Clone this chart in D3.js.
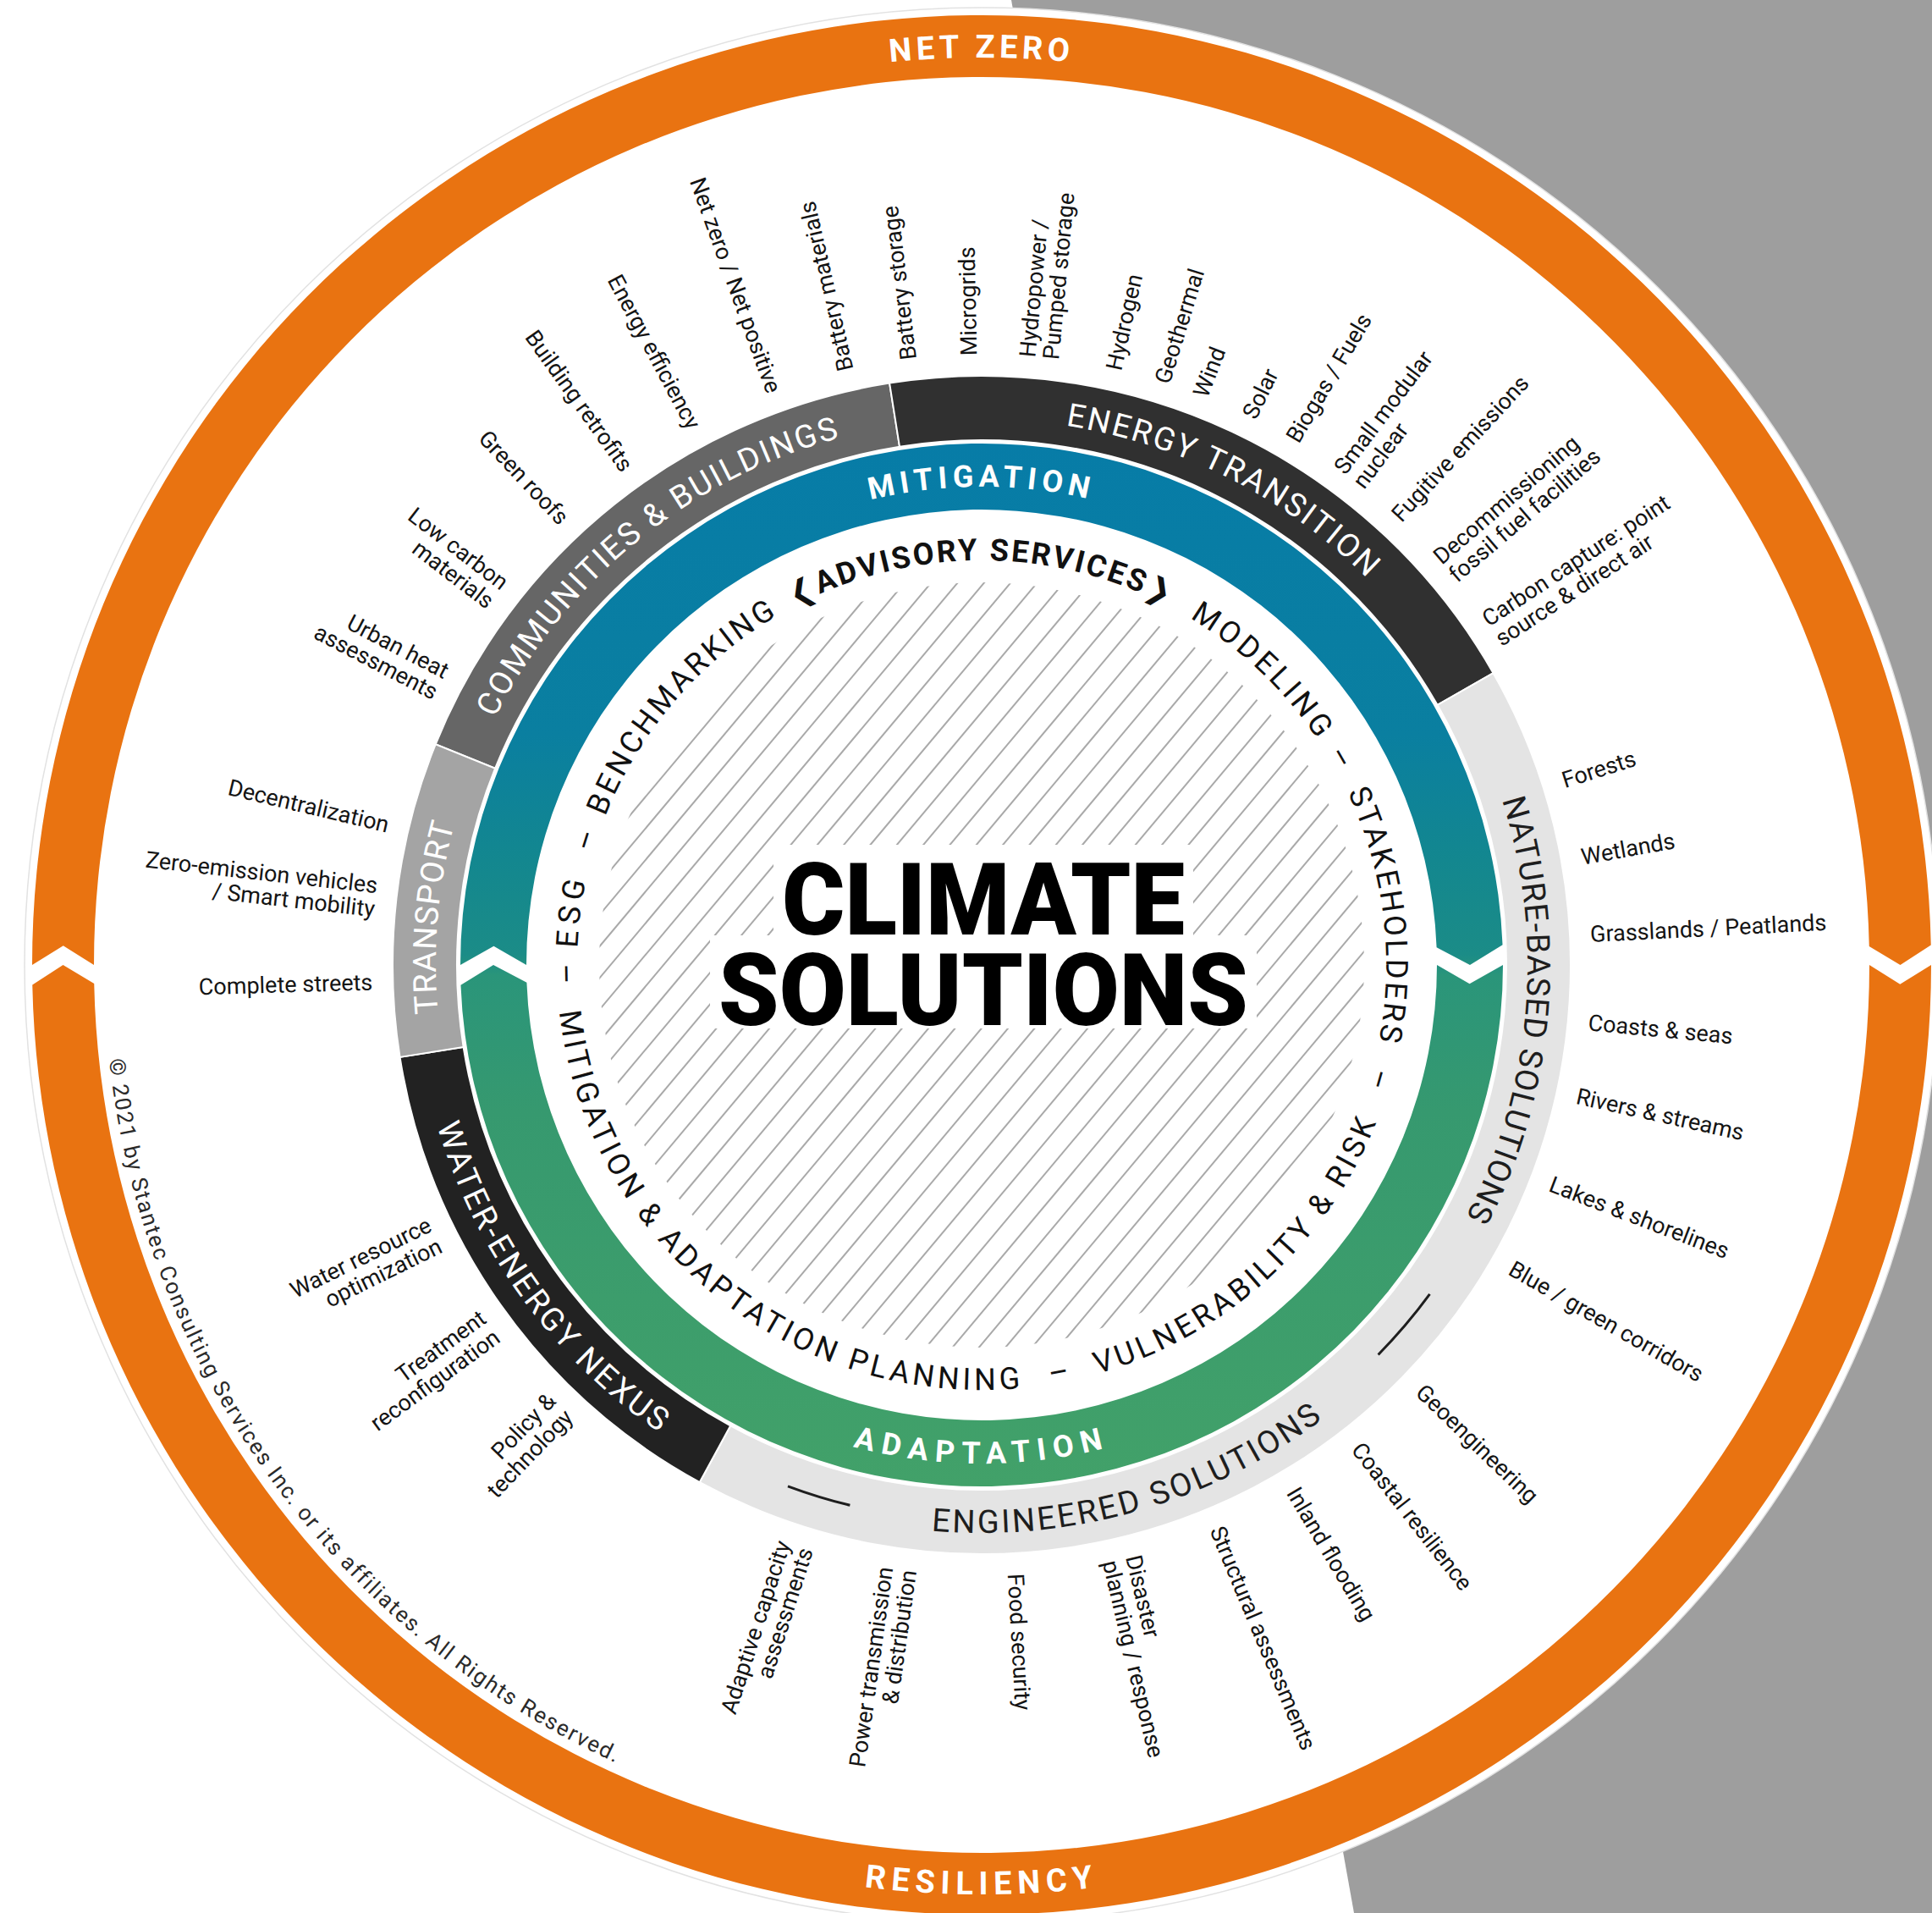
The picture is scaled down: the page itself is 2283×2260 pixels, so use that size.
<!DOCTYPE html>
<html>
<head>
<meta charset="utf-8">
<script src="https://cdn.jsdelivr.net/npm/d3@7"></script>
<style>
html, body { margin: 0; padding: 0; background: #fff; }
svg { display: block; }
text { font-family: Roboto, "Open Sans", "DejaVu Sans", sans-serif; }
</style>
</head>
<body>
<svg id="chart" width="2283" height="2260"></svg>
<script>
// outer loop (orange) and core loop (mitigation / adaptation), angles in degrees clockwise from 12 o'clock
var loopNames = ['NET ZERO', 'RESILIENCY'];
var loopFrom = [-90, 90];
var loopTo = [90, 270];
var loopTextSpan = [11.3, 14.2];

var coreNames = ['MITIGATION', 'ADAPTATION'];
var coreFrom = [-90, 90];
var coreTo = [90, 270];
var coreTextSpan = [26.2, 29.2];

// sector ring
var sectorEdges = [-68, -9, 60.3, 208.6, 261, 292];
var sectorFill = ['#666666', '#303030', '#e4e4e4', '#222222', '#a4a4a4'];

var bandNames = ['COMMUNITIES & BUILDINGS', 'ENERGY TRANSITION', 'NATURE-BASED SOLUTIONS', 'ENGINEERED SOLUTIONS', 'WATER-ENERGY NEXUS', 'TRANSPORT'];
var bandAngle = [-39, 27, 95, 164, 234, -85];
var bandSpan = [48, 36, 45, 42, 39, 20];
var bandInk = ['#ffffff', '#ffffff', '#1e1e1e', '#1e1e1e', '#ffffff', '#ffffff'];
var engDashes = [[126.3, 134.5], [193.7, 200.4]];

// advisory ring inside the core loop
var advisoryNames = ['ESG', '–', 'BENCHMARKING', '❮ADVISORY SERVICES❯', 'MODELING', '–', 'STAKEHOLDERS', '–', '–', 'MITIGATION & ADAPTATION PLANNING', '–', 'VULNERABILITY & RISK'];
var advisoryAngle = [-82.4, -72.5, -49.2, 0, 43.8, 60, 83, 106, -91.2, 219, 169.3, 137.8];
var advisorySpan = [9.5, 0, 38, 54.6, 25, 0, 36, 0, 0, 89, 0, 52.5];

// solutions around the ring
var itemNames = [
  'Urban heat\nassessments', 'Low carbon\nmaterials', 'Green roofs', 'Building retrofits', 'Energy efficiency', 'Net zero / Net positive',
  'Battery materials', 'Battery storage', 'Microgrids', 'Hydropower /\nPumped storage', 'Hydrogen', 'Geothermal', 'Wind', 'Solar',
  'Biogas / Fuels', 'Small modular\nnuclear', 'Fugitive emissions', 'Decommissioning\nfossil fuel facilities', 'Carbon capture: point\nsource & direct air',
  'Forests', 'Wetlands', 'Grasslands / Peatlands', 'Coasts & seas', 'Rivers & streams', 'Lakes & shorelines', 'Blue / green corridors',
  'Geoengineering', 'Coastal resilience', 'Inland flooding', 'Structural assessments', 'Disaster\nplanning / response', 'Food security',
  'Power transmission\n& distribution', 'Adaptive capacity\nassessments',
  'Policy &\ntechnology', 'Treatment\nreconfiguration', 'Water resource\noptimization',
  'Complete streets', 'Zero-emission vehicles\n/ Smart mobility', 'Decentralization'
];
var itemAngle = [-62.4, -52.5, -43.2, -35.5, -28.1, -19.9,
  -12.9, -6.9, -1.2, 5.4, 12.5, 17.2, 21, 26,
  30.6, 37, 42.8, 49.4, 56.7,
  72.4, 79.8, 87.1, 95.4, 102.4, 111, 119.7,
  134, 142, 149.3, 157.3, 166.7, 176.8,
  188, 197.9,
  223.8, 233.8, 243.8,
  268.4, 276.4, 283.3];

var titleLines = ['CLIMATE', 'SOLUTIONS'];
var copyright = '© 2021 by Stantec Consulting Services Inc. or its affiliates. All Rights Reserved.';

var W = 2283, H = 2260, cx = 1160, cy = 1140;
var PI = Math.PI;
var rad = d3.scaleLinear().domain([0, 360]).range([0, 2 * PI]);

var svg = d3.select('#chart');
var defs = svg.append('defs');

function pt(r, a) { return [cx + r * Math.sin(a), cy - r * Math.cos(a)]; }

// band with chevron ends; shift moves the mid point of each end clockwise
function chevronBand(ri, ro, a0, a1, shift) {
  var p = d3.path(), rm = (ri + ro) / 2, q;
  q = pt(ro, a0); p.moveTo(q[0], q[1]);
  p.arc(cx, cy, ro, a0 - PI / 2, a1 - PI / 2, false);
  q = pt(rm, a1 + shift); p.lineTo(q[0], q[1]);
  q = pt(ri, a1); p.lineTo(q[0], q[1]);
  p.arc(cx, cy, ri, a1 - PI / 2, a0 - PI / 2, true);
  q = pt(rm, a0 + shift); p.lineTo(q[0], q[1]);
  p.closePath();
  return p.toString();
}

var pathId = 0;
function arcText(g, str, r, center, span, style) {
  var mid = ((center % 360) + 360) % 360;
  var bottom = mid > 100 && mid < 260;
  var a0 = rad(center - 100), a1 = rad(center + 100);
  var p = d3.path(), q;
  if (!bottom) {
    q = pt(r, a0); p.moveTo(q[0], q[1]);
    p.arc(cx, cy, r, a0 - PI / 2, a1 - PI / 2, false);
  } else {
    q = pt(r, a1); p.moveTo(q[0], q[1]);
    p.arc(cx, cy, r, a1 - PI / 2, a0 - PI / 2, true);
  }
  var id = 'tp' + (pathId++);
  defs.append('path').attr('id', id).attr('d', p.toString());
  var t = g.append('text')
    .attr('text-anchor', 'middle')
    .attr('dominant-baseline', 'central')
    .style('font-size', style.size + 'px')
    .style('font-weight', style.weight || 400)
    .attr('fill', style.fill);
  t.append('textPath').attr('href', '#' + id).attr('startOffset', '50%').text(str);
  if (span && str.length > 1) {
    var len = t.node().getComputedTextLength();
    var target = r * rad(span);
    t.attr('letter-spacing', ((target - len) / (str.length - 1)).toFixed(2));
  }
  return t;
}

// background: white page, grey to the right
svg.append('rect').attr('width', W).attr('height', H).attr('fill', '#ffffff');
svg.append('path').attr('d', 'M1195,0L' + W + ',0L' + W + ',' + H + 'L1600,' + H + 'Z').attr('fill', '#9e9e9e');
svg.append('circle').attr('cx', cx).attr('cy', cy).attr('r', 1131)
  .attr('fill', '#ffffff').attr('stroke', '#e2e2e2').attr('stroke-width', 1.5);

// orange loop
var loopG = svg.append('g');
var lh = rad(0.6), ld = rad(1.2);
loopNames.forEach(function (n, i) {
  loopG.append('path')
    .attr('d', chevronBand(1049, 1122, rad(loopFrom[i]) + lh - ld / 2, rad(loopTo[i]) - lh - ld / 2, ld))
    .attr('fill', '#e97311');
  arcText(loopG, n, 1085, (loopFrom[i] + loopTo[i]) / 2, loopTextSpan[i], { size: 38, weight: 700, fill: '#ffffff' });
});

// sector ring
var sectorG = svg.append('g');
var sectorArc = d3.arc().innerRadius(620).outerRadius(696);
sectorFill.forEach(function (c, i) {
  sectorG.append('path')
    .attr('transform', 'translate(' + cx + ',' + cy + ')')
    .attr('d', sectorArc({ startAngle: rad(sectorEdges[i]), endAngle: rad(sectorEdges[i + 1]) }))
    .attr('fill', c).attr('stroke', '#ffffff').attr('stroke-width', 2);
});
bandNames.forEach(function (n, i) {
  arcText(sectorG, n, 658, bandAngle[i], bandSpan[i], { size: 38, weight: 400, fill: bandInk[i] });
});
engDashes.forEach(function (d) {
  var p = d3.path(), q = pt(657, rad(d[0]));
  p.moveTo(q[0], q[1]);
  p.arc(cx, cy, 657, rad(d[0]) - PI / 2, rad(d[1]) - PI / 2, false);
  sectorG.append('path').attr('d', p.toString()).attr('fill', 'none')
    .attr('stroke', '#1e1e1e').attr('stroke-width', 3);
});

// core loop
var grad = defs.append('linearGradient').attr('id', 'coreGrad')
  .attr('gradientUnits', 'userSpaceOnUse')
  .attr('x1', 0).attr('y1', cy - 616).attr('x2', 0).attr('y2', cy + 616);
[[0, '#077ca7'], [0.28, '#0a7fa0'], [0.4, '#13878f'], [0.49, '#1b8c87'], [0.51, '#2a957a'], [0.64, '#36996f'], [1, '#42a169']]
  .forEach(function (s) { grad.append('stop').attr('offset', s[0]).attr('stop-color', s[1]); });

var coreG = svg.append('g');
var ch = rad(1.1), cd = rad(2.2);
coreNames.forEach(function (n, i) {
  coreG.append('path')
    .attr('d', chevronBand(538, 616, rad(coreFrom[i]) + ch - cd / 2, rad(coreTo[i]) - ch - cd / 2, cd))
    .attr('fill', 'url(#coreGrad)');
  arcText(coreG, n, 577, (coreFrom[i] + coreTo[i]) / 2, coreTextSpan[i], { size: 36, weight: 700, fill: '#ffffff' });
});

// hatched centre
defs.append('clipPath').attr('id', 'hatchClip')
  .append('circle').attr('cx', cx).attr('cy', cy).attr('r', 452);
var hatchG = svg.append('g').attr('clip-path', 'url(#hatchClip)');
var ang = 50 * PI / 180, dir = [Math.cos(ang), -Math.sin(ang)], nrm = [Math.sin(ang), Math.cos(ang)];
d3.range(-480, 481, 24).forEach(function (t) {
  var x0 = cx + nrm[0] * t, y0 = cy + nrm[1] * t;
  hatchG.append('line')
    .attr('x1', x0 - dir[0] * 480).attr('y1', y0 - dir[1] * 480)
    .attr('x2', x0 + dir[0] * 480).attr('y2', y0 + dir[1] * 480)
    .attr('stroke', '#a9a9a9').attr('stroke-width', 2);
});

// advisory ring text
var advG = svg.append('g');
advisoryNames.forEach(function (n, i) {
  arcText(advG, n, 490, advisoryAngle[i], advisorySpan[i], {
    size: 36, weight: n.indexOf('ADVISORY') >= 0 ? 700 : 400, fill: '#111111'
  });
});

// title
var titleG = svg.append('g');
var titleBase = [1104, 1211], titleWidth = [476, 626];
var boxes = titleG.append('g');
titleLines.forEach(function (s, i) {
  var t = titleG.append('text')
    .attr('x', cx + 2).attr('y', titleBase[i])
    .attr('text-anchor', 'middle')
    .attr('textLength', titleWidth[i]).attr('lengthAdjust', 'spacingAndGlyphs')
    .style('font-size', '118px').style('font-weight', 900)
    .attr('fill', '#000000').text(s);
  var b = t.node().getBBox();
  boxes.append('rect')
    .attr('x', b.x - 10).attr('y', titleBase[i] - 106).attr('width', b.width + 20).attr('height', 110)
    .attr('fill', '#ffffff');
});

// solutions
var itemG = svg.append('g');
var rItem = 720, lineH = 28;
itemNames.forEach(function (name, i) {
  var a = itemAngle[i];
  var outward = a > -16 && a < 182;
  var lines = name.split('\n');
  var t = itemG.append('text')
    .attr('transform', 'translate(' + cx + ',' + cy + ') rotate(' + (a - 90) + ') translate(' + rItem + ',0)' + (outward ? '' : ' rotate(180)'))
    .attr('text-anchor', outward ? 'start' : 'end')
    .style('font-size', '27px')
    .attr('fill', '#141414');
  lines.forEach(function (l, j) {
    t.append('tspan').attr('x', 0)
      .attr('y', (j - (lines.length - 1) / 2) * lineH)
      .attr('dy', '0.35em').text(l);
  });
});

// copyright
arcText(svg.append('g'), copyright, 1028, 234.2, 59, { size: 26, weight: 400, fill: '#2a2a2a' });
</script>
</body>
</html>
